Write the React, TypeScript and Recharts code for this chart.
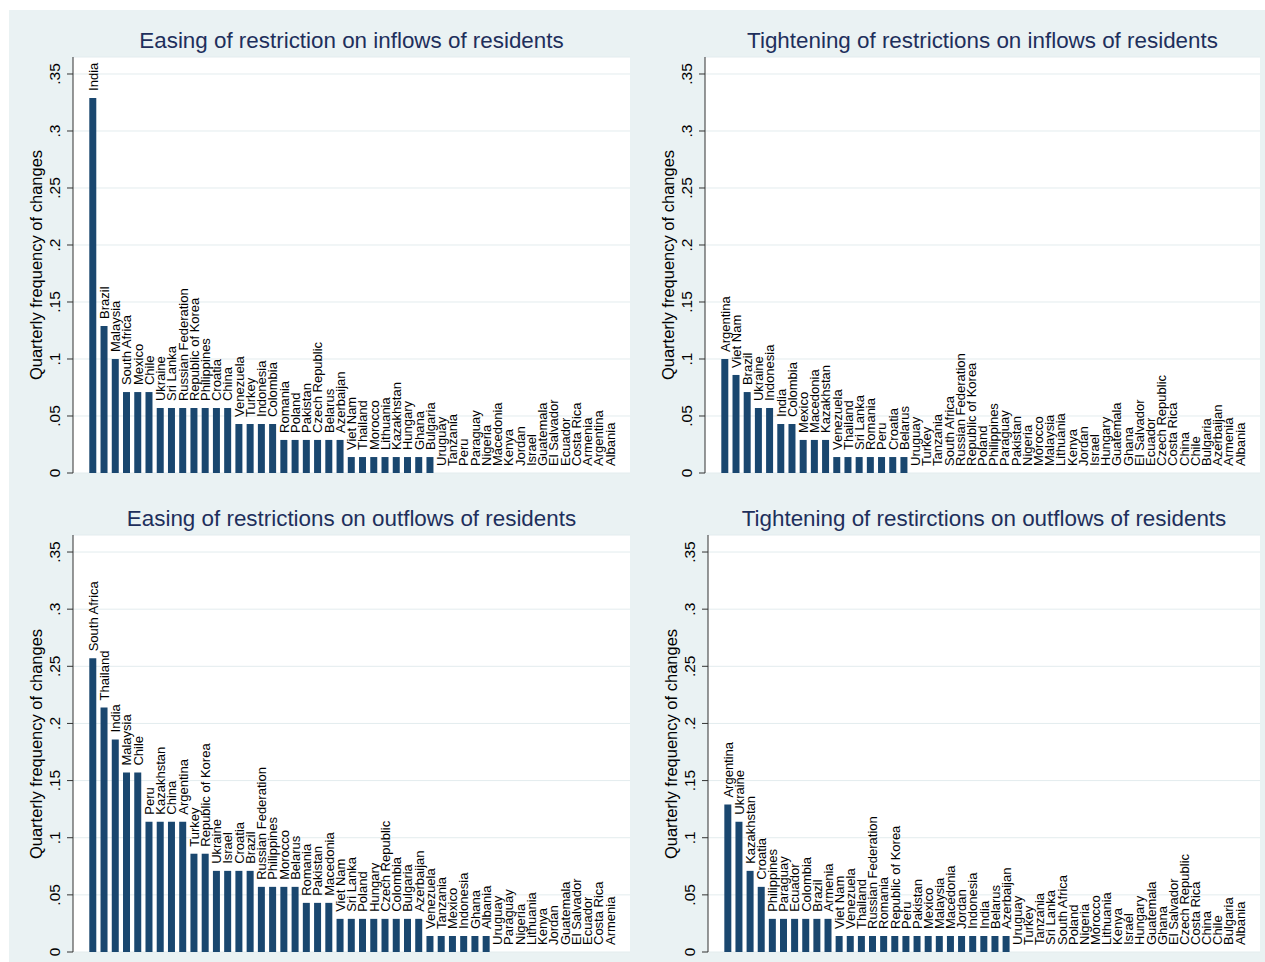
import React from 'react';
import { ComposedChart, Bar, Line, XAxis, YAxis, CartesianGrid, LabelList } from 'recharts';

// ---------- Data ----------
const easingInCats = ['India', 'Brazil', 'Malaysia', 'South Africa', 'Mexico', 'Chile', 'Ukraine', 'Sri Lanka', 'Russian Federation', 'Republic of Korea', 'Philippines', 'Croatia', 'China', 'Venezuela', 'Turkey', 'Indonesia', 'Colombia', 'Romania', 'Poland', 'Pakistan', 'Czech Republic', 'Belarus', 'Azerbaijan', 'Viet Nam', 'Thailand', 'Morocco', 'Lithuania', 'Kazakhstan', 'Hungary', 'Ghana', 'Bulgaria', 'Uruguay', 'Tanzania', 'Peru', 'Paraguay', 'Nigeria', 'Macedonia', 'Kenya', 'Jordan', 'Israel', 'Guatemala', 'El Salvador', 'Ecuador', 'Costa Rica', 'Armenia', 'Argentina', 'Albania'];
const easingInVals = [0.329, 0.129, 0.1, 0.071, 0.071, 0.071, 0.057, 0.057, 0.057, 0.057, 0.057, 0.057, 0.057, 0.043, 0.043, 0.043, 0.043, 0.029, 0.029, 0.029, 0.029, 0.029, 0.029, 0.014, 0.014, 0.014, 0.014, 0.014, 0.014, 0.014, 0.014, 0, 0, 0, 0, 0, 0, 0, 0, 0, 0, 0, 0, 0, 0, 0, 0];

const tightInCats = ['Argentina', 'Viet Nam', 'Brazil', 'Ukraine', 'Indonesia', 'India', 'Colombia', 'Mexico', 'Macedonia', 'Kazakhstan', 'Venezuela', 'Thailand', 'Sri Lanka', 'Romania', 'Peru', 'Croatia', 'Belarus', 'Uruguay', 'Turkey', 'Tanzania', 'South Africa', 'Russian Federation', 'Republic of Korea', 'Poland', 'Philippines', 'Paraguay', 'Pakistan', 'Nigeria', 'Morocco', 'Malaysia', 'Lithuania', 'Kenya', 'Jordan', 'Israel', 'Hungary', 'Guatemala', 'Ghana', 'El Salvador', 'Ecuador', 'Czech Republic', 'Costa Rica', 'China', 'Chile', 'Bulgaria', 'Azerbaijan', 'Armenia', 'Albania'];
const tightInVals = [0.1, 0.086, 0.071, 0.057, 0.057, 0.043, 0.043, 0.029, 0.029, 0.029, 0.014, 0.014, 0.014, 0.014, 0.014, 0.014, 0.014, 0, 0, 0, 0, 0, 0, 0, 0, 0, 0, 0, 0, 0, 0, 0, 0, 0, 0, 0, 0, 0, 0, 0, 0, 0, 0, 0, 0, 0, 0];

const easingOutCats = ['South Africa', 'Thailand', 'India', 'Malaysia', 'Chile', 'Peru', 'Kazakhstan', 'China', 'Argentina', 'Turkey', 'Republic of Korea', 'Ukraine', 'Israel', 'Croatia', 'Brazil', 'Russian Federation', 'Philippines', 'Morocco', 'Belarus', 'Romania', 'Pakistan', 'Macedonia', 'Viet Nam', 'Sri Lanka', 'Poland', 'Hungary', 'Czech Republic', 'Colombia', 'Bulgaria', 'Azerbaijan', 'Venezuela', 'Tanzania', 'Mexico', 'Indonesia', 'Ghana', 'Albania', 'Uruguay', 'Paraguay', 'Nigeria', 'Lithuania', 'Kenya', 'Jordan', 'Guatemala', 'El Salvador', 'Ecuador', 'Costa Rica', 'Armenia'];
const easingOutVals = [0.257, 0.214, 0.186, 0.157, 0.157, 0.114, 0.114, 0.114, 0.114, 0.086, 0.086, 0.071, 0.071, 0.071, 0.071, 0.057, 0.057, 0.057, 0.057, 0.043, 0.043, 0.043, 0.029, 0.029, 0.029, 0.029, 0.029, 0.029, 0.029, 0.029, 0.014, 0.014, 0.014, 0.014, 0.014, 0.014, 0, 0, 0, 0, 0, 0, 0, 0, 0, 0, 0];

const tightOutCats = ['Argentina', 'Ukraine', 'Kazakhstan', 'Croatia', 'Philippines', 'Paraguay', 'Ecuador', 'Colombia', 'Brazil', 'Armenia', 'Viet Nam', 'Venezuela', 'Thailand', 'Russian Federation', 'Romania', 'Republic of Korea', 'Peru', 'Pakistan', 'Mexico', 'Malaysia', 'Macedonia', 'Jordan', 'Indonesia', 'India', 'Belarus', 'Azerbaijan', 'Uruguay', 'Turkey', 'Tanzania', 'Sri Lanka', 'South Africa', 'Poland', 'Nigeria', 'Morocco', 'Lithuania', 'Kenya', 'Israel', 'Hungary', 'Guatemala', 'Ghana', 'El Salvador', 'Czech Republic', 'Costa Rica', 'China', 'Chile', 'Bulgaria', 'Albania'];
const tightOutVals = [0.129, 0.114, 0.071, 0.057, 0.029, 0.029, 0.029, 0.029, 0.029, 0.029, 0.014, 0.014, 0.014, 0.014, 0.014, 0.014, 0.014, 0.014, 0.014, 0.014, 0.014, 0.014, 0.014, 0.014, 0.014, 0.014, 0, 0, 0, 0, 0, 0, 0, 0, 0, 0, 0, 0, 0, 0, 0, 0, 0, 0, 0, 0, 0];

const yTicks = [0, 0.05, 0.1, 0.15, 0.2, 0.25, 0.3, 0.35];
const yTickLabels = ['0', '.05', '.1', '.15', '.2', '.25', '.3', '.35'];

const titles = [
  'Easing of restriction on inflows of residents',
  'Tightening of restrictions on inflows of residents',
  'Easing of restrictions on outflows of residents',
  'Tightening of restirctions on outflows of residents',
];
const yTitle = 'Quarterly frequency of changes';

// ---------- Styles ----------
const FONT = '"Liberation Sans", Arial, Helvetica, sans-serif';
const BG = '#EAF2F3';
const BAR = '#1A476F';
const TITLE_COLOR = '#1E2F5C';
const AXIS_W = 70;
const Y_MAX = 0.3649;
const BOTTOM_EXTRA = 14;

type PanelProps = {
  axisX: number;
  plotRight: number;
  plotTop: number;
  plotBottom: number;
  titleY: number;
  title: string;
  cats: string[];
  vals: number[];
};

const YTick = (props: any) => {
  const { x, y, payload } = props;
  const idx = yTicks.findIndex((t) => Math.abs(t - payload.value) < 1e-9);
  const label = idx >= 0 ? yTickLabels[idx] : String(payload.value);
  return (
    <text
      transform={`translate(${Number(x) - 5},${Number(y)}) rotate(-90)`}
      textAnchor="middle"
      fontSize={15.5}
      fontFamily={FONT}
      fill="#000"
    >
      {label}
    </text>
  );
};

const BarLabel = (props: any) => {
  const { x, y, value } = props;
  const cx = Number(x) + 4.6;
  const top = Number(y) - 7;
  return (
    <text
      transform={`translate(${cx},${top}) rotate(-90)`}
      textAnchor="start"
      fontSize={13}
      fontFamily={FONT}
      fill="#000"
    >
      {value}
    </text>
  );
};

function Panel({ axisX, plotRight, plotTop, plotBottom, titleY, title, cats, vals }: PanelProps) {
  const data = cats.map((c, i) => ({ name: c, value: vals[i] }));
  const chartLeft = axisX - AXIS_W;
  const chartTop = plotTop - 10;
  const width = plotRight - chartLeft;
  const height = plotBottom - chartTop + BOTTOM_EXTRA;
  const plotW = plotRight - axisX;
  const band = (plotW - 2 * 14.4) / cats.length;
  const pad = 20 - band / 2;
  return (
    <>
      <div
        style={{
          position: 'absolute',
          left: axisX - 20,
          width: plotW + 40,
          top: titleY - 14,
          height: 28,
          lineHeight: '28px',
          textAlign: 'center',
          fontFamily: FONT,
          fontSize: 22.4,
          color: TITLE_COLOR,
          whiteSpace: 'nowrap',
        }}
      >
        {title}
      </div>
      <div
        style={{
          position: 'absolute',
          left: axisX - 37 - 200,
          width: 400,
          top: (plotTop + plotBottom) / 2 - 11,
          height: 22,
          lineHeight: '22px',
          textAlign: 'center',
          fontFamily: FONT,
          fontSize: 16.5,
          color: '#000',
          transform: 'rotate(-90deg)',
          whiteSpace: 'nowrap',
        }}
      >
        {yTitle}
      </div>
      <div style={{ position: 'absolute', left: chartLeft, top: chartTop, width, height }}>
        <ComposedChart
          width={width}
          height={height}
          data={data}
          margin={{ top: 10, right: 0, bottom: BOTTOM_EXTRA, left: 0 }}
          barCategoryGap="17%"
        >
          <CartesianGrid vertical={false} fill="#FFFFFF" stroke="#E3ECEE" strokeWidth={1} />
          <XAxis dataKey="name" hide padding={{ left: pad, right: pad }} />
          <YAxis
            type="number"
            domain={[0, Y_MAX]}
            ticks={yTicks}
            width={AXIS_W}
            axisLine={{ stroke: '#333333', strokeWidth: 1 }}
            tickLine={{ stroke: '#333333', strokeWidth: 1 }}
            tickSize={6}
            tickMargin={2}
            tick={<YTick />}
            interval={0}
            allowDataOverflow
          />
          <Bar dataKey="value" fill={BAR} isAnimationActive={false} />
          <Line
            dataKey="value"
            stroke="none"
            strokeOpacity={0}
            dot={false}
            activeDot={false}
            isAnimationActive={false}
            legendType="none"
          >
            <LabelList dataKey="name" content={<BarLabel />} />
          </Line>
        </ComposedChart>
      </div>
    </>
  );
}

export default function App() {
  return (
    <div
      style={{
        position: 'absolute',
        left: 0,
        top: 0,
        width: 1265,
        height: 962,
        background: '#FFFFFF',
        overflow: 'hidden',
      }}
    >
      <div style={{ position: 'absolute', left: 9, top: 10, width: 1256, height: 952, background: BG }} />
      <Panel axisX={73} plotRight={630} plotTop={57} plotBottom={473} titleY={41} title={titles[0]} cats={easingInCats} vals={easingInVals} />
      <Panel axisX={705} plotRight={1260} plotTop={57} plotBottom={473} titleY={41} title={titles[1]} cats={tightInCats} vals={tightInVals} />
      <Panel axisX={73} plotRight={630} plotTop={535} plotBottom={952} titleY={519} title={titles[2]} cats={easingOutCats} vals={easingOutVals} />
      <Panel axisX={708} plotRight={1260} plotTop={535} plotBottom={952} titleY={519} title={titles[3]} cats={tightOutCats} vals={tightOutVals} />
    </div>
  );
}
